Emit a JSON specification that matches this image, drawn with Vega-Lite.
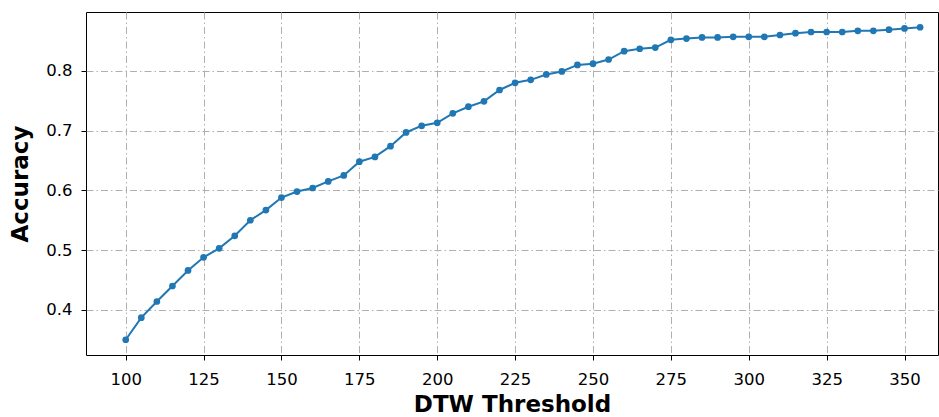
{
  "$schema": "https://vega.github.io/schema/vega-lite/v6.json",
  "autosize": {"type": "none"},
  "width": 852,
  "height": 343,
  "padding": {"left": 86, "top": 12, "right": 1, "bottom": 62},
  "background": "white",
  "config": {
    "view": {"stroke": "black", "strokeWidth": 1},
    "font": "DejaVu Sans",
    "axis": {
      "labelFont": "DejaVu Sans",
      "labelFontSize": 16.5,
      "labelColor": "black",
      "titleFont": "DejaVu Sans",
      "titleFontSize": 23,
      "titleFontWeight": "bold",
      "titleColor": "black",
      "tickColor": "black",
      "tickSize": 5,
      "domain": false,
      "grid": true,
      "gridColor": "#b0b0b0",
      "gridDash": [7, 3, 1.5, 3],
      "gridWidth": 1
    }
  },
  "data": {
    "values": [
      {"t": 100, "acc": 0.350}, {"t": 105, "acc": 0.387}, {"t": 110, "acc": 0.414},
      {"t": 115, "acc": 0.440}, {"t": 120, "acc": 0.466}, {"t": 125, "acc": 0.488},
      {"t": 130, "acc": 0.503}, {"t": 135, "acc": 0.524}, {"t": 140, "acc": 0.550},
      {"t": 145, "acc": 0.567}, {"t": 150, "acc": 0.588}, {"t": 155, "acc": 0.598},
      {"t": 160, "acc": 0.604}, {"t": 165, "acc": 0.615}, {"t": 170, "acc": 0.625},
      {"t": 175, "acc": 0.648}, {"t": 180, "acc": 0.656}, {"t": 185, "acc": 0.674},
      {"t": 190, "acc": 0.697}, {"t": 195, "acc": 0.708}, {"t": 200, "acc": 0.713},
      {"t": 205, "acc": 0.729}, {"t": 210, "acc": 0.740}, {"t": 215, "acc": 0.749},
      {"t": 220, "acc": 0.768}, {"t": 225, "acc": 0.780}, {"t": 230, "acc": 0.785},
      {"t": 235, "acc": 0.794}, {"t": 240, "acc": 0.799}, {"t": 245, "acc": 0.810},
      {"t": 250, "acc": 0.812}, {"t": 255, "acc": 0.819}, {"t": 260, "acc": 0.833},
      {"t": 265, "acc": 0.837}, {"t": 270, "acc": 0.839}, {"t": 275, "acc": 0.852},
      {"t": 280, "acc": 0.854}, {"t": 285, "acc": 0.856}, {"t": 290, "acc": 0.856},
      {"t": 295, "acc": 0.857}, {"t": 300, "acc": 0.857}, {"t": 305, "acc": 0.857},
      {"t": 310, "acc": 0.860}, {"t": 315, "acc": 0.863}, {"t": 320, "acc": 0.865},
      {"t": 325, "acc": 0.865}, {"t": 330, "acc": 0.865}, {"t": 335, "acc": 0.867},
      {"t": 340, "acc": 0.867}, {"t": 345, "acc": 0.869}, {"t": 350, "acc": 0.871},
      {"t": 355, "acc": 0.873}
    ]
  },
  "mark": {"type": "line", "color": "#1f77b4", "strokeWidth": 2, "point": {"filled": true, "size": 45, "color": "#1f77b4", "opacity": 1}},
  "encoding": {
    "x": {
      "field": "t", "type": "quantitative",
      "scale": {"domain": [87.25, 360.75], "nice": false, "zero": false},
      "axis": {"title": "DTW Threshold", "values": [100, 125, 150, 175, 200, 225, 250, 275, 300, 325, 350], "labelPadding": 11, "titlePadding": 6}
    },
    "y": {
      "field": "acc", "type": "quantitative",
      "scale": {"domain": [0.3245, 0.8985], "nice": false, "zero": false},
      "axis": {"title": "Accuracy", "values": [0.4, 0.5, 0.6, 0.7, 0.8], "format": ".1f", "labelPadding": 9, "titlePadding": 13}
    }
  }
}
